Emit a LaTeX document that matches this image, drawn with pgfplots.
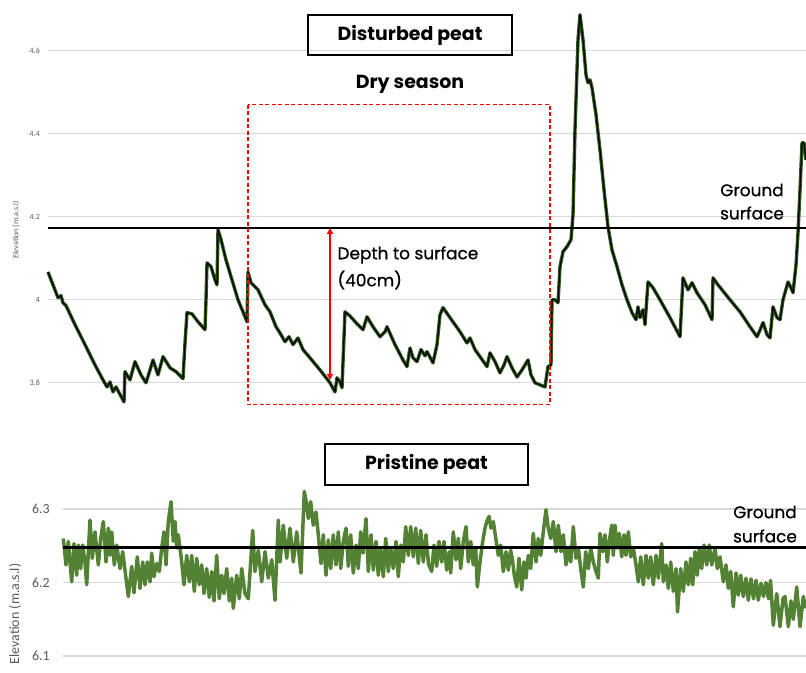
\documentclass[border=0pt]{standalone}
\usepackage{pgfplots}
\pgfplotsset{compat=1.18}
\usepackage{fontspec}
\setmainfont{Poppins}
\newfontfamily\pmed{Poppins}[FakeBold=0.7]
\newfontfamily\calibri{Carlito}
\usetikzlibrary{arrows.meta}
\definecolor{gridgray}{HTML}{D9D9D9}
\definecolor{labgray}{HTML}{595959}
\definecolor{peatgreen}{HTML}{548235}
\definecolor{darkgreen}{HTML}{2E5B1B}

% disturbed peat: x = time step, y = elevation (m.a.s.l)
\pgfplotstableread{
x y
48 4.067
53 4.036
58 4.005
61 4.010
63 3.993
66 3.986
75 3.940
85 3.892
95 3.843
103 3.807
107 3.790
110 3.802
113 3.778
116 3.790
124 3.754
125 3.827
130 3.807
135 3.851
141 3.819
146 3.800
150 3.831
153 3.855
158 3.819
163 3.863
170 3.836
176 3.827
183 3.810
185 3.896
187 3.969
192 3.966
198 3.947
205 3.928
206 4.000
207 4.089
211 4.080
215 4.048
217 4.036
218 4.169
221 4.145
226 4.096
232 4.048
238 4.000
243 3.971
247 3.947
248 4.067
251 4.041
258 4.024
265 3.988
270 3.971
276 3.935
280 3.920
285 3.899
289 3.911
293 3.892
298 3.908
303 3.880
310 3.860
320 3.831
330 3.800
335 3.778
337 3.812
340 3.802
342 3.788
345 3.971
350 3.961
357 3.942
363 3.928
367 3.959
373 3.935
380 3.911
385 3.923
387 3.935
395 3.892
403 3.855
407 3.839
410 3.884
413 3.860
417 3.851
421 3.880
425 3.865
427 3.875
433 3.848
437 3.892
440 3.964
443 3.981
450 3.957
460 3.923
467 3.896
470 3.908
475 3.880
487 3.839
490 3.872
495 3.851
500 3.824
504 3.843
507 3.863
512 3.836
517 3.814
522 3.831
528 3.855
531 3.819
535 3.800
540 3.795
545 3.790
548 3.839
551 3.843
552 4.000
555 4.000
558 3.993
560 4.080
563 4.116
567 4.128
571 4.145
573 4.205
575 4.410
578 4.627
580 4.687
583 4.627
586 4.542
588 4.523
590 4.530
592 4.511
596 4.446
600 4.361
604 4.265
608 4.176
612 4.120
617 4.080
622 4.036
627 4.000
632 3.969
636 3.952
638 3.983
640 3.957
643 3.976
645 3.940
648 4.043
653 4.029
660 4.000
670 3.957
680 3.911
683 4.053
688 4.024
692 4.041
697 4.017
705 3.988
712 3.952
713 4.053
718 4.036
722 4.024
730 4.000
740 3.971
750 3.935
757 3.911
760 3.927
763 3.945
767 3.916
770 3.908
773 3.983
777 3.957
780 3.952
783 4.000
785 4.017
788 4.043
791 4.029
793 4.017
796 4.084
798 4.161
800 4.265
802 4.378
804 4.378
806 4.337
}\disturbed

% pristine peat
\pgfplotstableread{
x y
63.3 6.260
66 6.224
68.3 6.256
71.7 6.201
74 6.253
76.7 6.210
78.3 6.251
80.7 6.219
82.7 6.251
85 6.228
86.7 6.197
90 6.285
92.3 6.233
95 6.269
98.3 6.224
100.7 6.260
103.3 6.283
106 6.228
108.3 6.274
110 6.237
111.7 6.269
114.3 6.224
116.7 6.251
120 6.219
122.7 6.242
126 6.206
128.3 6.181
131.7 6.222
134 6.186
137.3 6.235
140 6.192
142.7 6.228
145 6.197
147.3 6.228
150 6.201
151.7 6.240
154 6.208
156.7 6.226
159.3 6.215
161.7 6.247
164 6.269
166 6.224
168.3 6.283
171 6.310
173.3 6.256
175 6.283
176.7 6.247
178.3 6.265
181.7 6.228
184 6.197
186.7 6.237
189.3 6.201
191.7 6.237
194.3 6.188
196.7 6.233
199.3 6.197
201.7 6.224
204 6.185
206.7 6.219
209.3 6.180
211.7 6.215
214 6.175
216.7 6.237
219.3 6.178
221.7 6.210
224 6.185
226.7 6.219
229.3 6.175
231.7 6.206
233.3 6.165
236.7 6.210
239.3 6.178
241.7 6.219
245 6.185
248.3 6.178
252.7 6.271
255 6.215
258.3 6.244
261.7 6.201
265 6.242
268.3 6.206
271.7 6.231
275 6.176
278.3 6.285
280 6.228
283.3 6.278
286.7 6.233
290 6.274
293.3 6.228
296.7 6.269
301 6.213
304.3 6.324
306.7 6.306
308.3 6.287
310.7 6.310
313.3 6.278
316 6.296
318.3 6.265
321 6.226
323.3 6.265
326 6.210
328.3 6.258
330.7 6.219
333.3 6.265
336 6.224
338.3 6.269
340.7 6.219
343.3 6.256
346 6.274
348.3 6.222
350.7 6.265
353.3 6.213
356 6.251
358.3 6.219
360.7 6.269
363 6.240
366 6.287
368.3 6.215
371 6.265
373.3 6.217
376 6.256
378.3 6.210
380.7 6.247
383.3 6.208
385.7 6.260
388.3 6.215
390.7 6.247
393.3 6.219
396 6.256
398.3 6.208
400.7 6.251
403.3 6.228
405.7 6.276
408.3 6.237
410.7 6.276
413.3 6.235
415.7 6.274
418.3 6.226
420.7 6.271
423.3 6.228
426 6.265
428.5 6.225
431.7 6.215
434 6.251
436.7 6.222
439 6.256
441.7 6.228
444 6.256
446.7 6.217
449.3 6.242
450.7 6.213
453.3 6.269
456 6.231
458.3 6.260
460.7 6.219
463.3 6.256
466 6.276
468.3 6.228
470.7 6.256
473.3 6.224
475.7 6.247
477.3 6.194
480 6.228
482.7 6.256
485 6.274
486.7 6.283
489 6.290
491 6.274
493.3 6.283
496 6.258
498.3 6.237
500.7 6.251
503.3 6.215
506 6.242
508.3 6.217
510.7 6.244
512.7 6.228
514.3 6.210
516.7 6.194
519 6.233
521.7 6.190
524 6.228
526 6.206
528.3 6.237
530.7 6.219
533.3 6.267
536 6.228
538.3 6.260
540.7 6.237
543.3 6.269
546 6.299
548.3 6.274
550.7 6.260
553.3 6.283
556 6.242
558.3 6.278
561 6.242
563.3 6.265
566 6.224
568.3 6.247
570.7 6.228
573.3 6.276
576 6.233
578.3 6.247
580.7 6.219
583.3 6.194
585.7 6.242
588.3 6.219
590.7 6.247
593.3 6.228
596 6.215
598.3 6.206
600 6.267
602.7 6.242
605 6.265
607.3 6.228
609.3 6.256
611.7 6.278
613.3 6.237
615 6.278
617.3 6.247
619.3 6.267
621.7 6.235
624 6.265
626 6.237
628.3 6.269
630.7 6.235
633.3 6.247
636 6.224
638.3 6.201
640.7 6.235
643.3 6.197
646 6.237
648.3 6.206
650.7 6.235
653.3 6.197
656 6.237
658.3 6.206
661.7 6.253
663.3 6.201
666 6.224
668.3 6.192
670.7 6.228
673.3 6.188
676 6.219
677.5 6.160
680.7 6.219
683.3 6.188
686 6.228
688.3 6.197
690.7 6.233
692.7 6.197
695 6.242
697.3 6.210
699.3 6.247
701.7 6.219
704 6.251
706.7 6.224
709.3 6.251
711.7 6.224
715 6.247
717.3 6.219
720 6.235
723.3 6.201
726 6.224
728.3 6.192
730.7 6.215
733.3 6.167
736 6.213
738.3 6.183
740.7 6.210
743.3 6.181
746 6.206
748.3 6.176
751 6.205
753.5 6.178
756 6.203
758.3 6.176
761 6.199
763.5 6.181
766 6.200
768.5 6.178
770.5 6.203
773.3 6.142
776.7 6.185
780 6.140
783 6.178
785 6.181
788.3 6.140
791 6.175
793.3 6.150
796.7 6.194
800 6.140
803.3 6.181
805.5 6.165
}\pristine

\pgfplotsset{
  panel/.style={
    anchor=south west, scale only axis, clip=false,
    axis line style={draw=none}, major tick length=0pt,
    xtick=\empty, ymajorgrids,
    grid style={line width=1.2bp, gridgray},
    /pgf/number format/assume math mode=true,
  },
}

\begin{document}
\begin{tikzpicture}[x=1bp,y=1bp]
\useasboundingbox (0bp,0bp) rectangle (806bp,673bp);

% top panel: disturbed peat
\begin{axis}[panel, at={(48bp,257bp)}, width=758bp, height=415bp,
  xmin=48, xmax=806, ymin=3.72, ymax=4.72,
  ytick={3.8,4,4.2,4.4,4.6},
  yticklabel style={font=\calibri\fontsize{8}{8}\selectfont, text=labgray, inner sep=0pt, xshift=-8bp},
]
  \addplot[darkgreen, line width=3.4bp, line join=round] table {\disturbed};
  \addplot[black, line width=1.2bp, line join=round] table {\disturbed};
  \addplot[black, line width=2.6bp] coordinates {(48,4.173) (806,4.173)};
  \draw[red, line width=1.4bp, dash pattern=on 4bp off 2.5bp]
    (axis cs:248,4.470) rectangle (axis cs:550,3.747);
  \draw[red, line width=1.5bp, {Triangle[length=6bp,width=6bp]}-{Triangle[length=6bp,width=6bp]}]
    (axis cs:330,4.173) -- (axis cs:330,3.807);
\end{axis}

% bottom panel: pristine peat
\begin{axis}[panel, at={(63bp,0bp)}, width=743bp, height=186bp,
  xmin=63, xmax=806, ymin=6.077, ymax=6.33,
  ytick={6.1,6.2,6.3},
  yticklabel style={font=\calibri\fontsize{14}{14}\selectfont, text=labgray, inner sep=0pt, xshift=-13bp},
]
  \addplot[peatgreen, line width=3.5bp, line join=round] table {\pristine};
  \addplot[black, line width=3.2bp] coordinates {(63,6.248) (806,6.248)};
\end{axis}

% axis titles
\node[rotate=90, text=labgray, font=\calibri\fontsize{8}{8}\selectfont] at (16bp,443bp) {Elevation (m.a.s.l)};
\node[rotate=90, text=labgray, font=\calibri\fontsize{14}{14}\selectfont] at (15bp,59bp) {Elevation (m.a.s.l)};

% annotations
\node[draw=black, line width=1.5bp, minimum width=204bp, minimum height=40bp, inner sep=0pt,
  font=\bfseries\fontsize{19}{19}\selectfont] at (410bp,638bp) {Disturbed peat};
\node[font=\bfseries\fontsize{19}{19}\selectfont] at (410bp,589bp) {Dry season};
\node[anchor=west, font=\pmed\fontsize{17}{17}\selectfont] at (334bp,418bp) {Depth to surface};
\node[anchor=west, font=\pmed\fontsize{17}{17}\selectfont] at (334bp,393bp) {(40cm)};
\node[font=\pmed\fontsize{17}{17}\selectfont] at (752bp,483bp) {Ground};
\node[font=\pmed\fontsize{17}{17}\selectfont] at (752bp,460bp) {surface};

\node[draw=black, line width=1.5bp, minimum width=203bp, minimum height=41bp, inner sep=0pt,
  font=\bfseries\fontsize{19}{19}\selectfont] at (426.5bp,208.5bp) {Pristine peat};
\node[font=\pmed\fontsize{17}{17}\selectfont] at (765bp,161bp) {Ground};
\node[font=\pmed\fontsize{17}{17}\selectfont] at (765bp,137bp) {surface};
\end{tikzpicture}
\end{document}
